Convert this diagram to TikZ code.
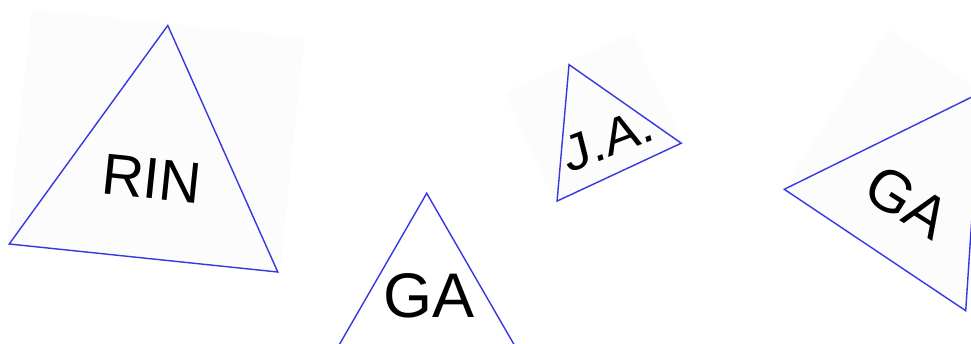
\documentclass[tikz,border=0pt]{standalone}
\usepackage{fontspec}
\setmainfont{Liberation Sans}
\definecolor{triblue}{RGB}{55,55,225}
\definecolor{bgc}{RGB}{252,252,252}
\tikzset{
  tribg/.style={fill=bgc, draw=none},
  triedge/.style={draw=triblue, line width=1.4pt, line join=miter},
  trilabel/.style={inner sep=0pt, text=black, anchor=center}
}
\newcommand{\mytri}[1]{%
  \pgfmathsetmacro{\hh}{#1*0.8660254}%
  \pgfmathsetmacro{\ss}{#1/2}%
  \fill[tribg] (-\ss-2,-1) rectangle (\ss+2,\hh+2);
  \draw[triedge] (-\ss,0) -- (\ss,0) -- (0,\hh) -- cycle;
}
\newcommand{\mytrinobg}[1]{%
  \pgfmathsetmacro{\hh}{#1*0.8660254}%
  \pgfmathsetmacro{\ss}{#1/2}%
  \draw[triedge] (-\ss,0) -- (\ss,0) -- (0,\hh) -- cycle;
}
\begin{document}
\begin{tikzpicture}[x=1pt,y=1pt]
\useasboundingbox (0,0) rectangle (971,343);
\clip (0,0) rectangle (971,343);
\fill[white] (0,0) rectangle (971,343);
% RIN
\begin{scope}[shift={(143.5,85)}, rotate=-5.96, transform shape]
  \mytri{270}
  \node[trilabel, font=\fontsize{58}{60}\selectfont] (rin) at (0,80) {RIN};
\end{scope}
% J.A.
\begin{scope}[shift={(619.15,170.85)}, rotate=25, transform shape]
  \mytri{137}
  \node[trilabel, rotate=-4, xslant=0.12, xscale=1.1, font=\fontsize{50}{52}\selectfont] (ja) at (4,34) {J.A.};
\end{scope}
% bottom GA
\begin{scope}[shift={(426.7,-14.8)}, transform shape]
  \mytrinobg{190}
  \node[trilabel, font=\fontsize{63}{65}\selectfont] (ga1) at (2.6,62) {GA};
\end{scope}
% right GA
\begin{scope}[shift={(875,93)}, rotate=-33.8, transform shape]
  \mytri{218.3}
  \node[trilabel, rotate=1.5, font=\fontsize{59}{61}\selectfont] (ga2) at (0,58) {GA};
\end{scope}
\end{tikzpicture}
\end{document}
